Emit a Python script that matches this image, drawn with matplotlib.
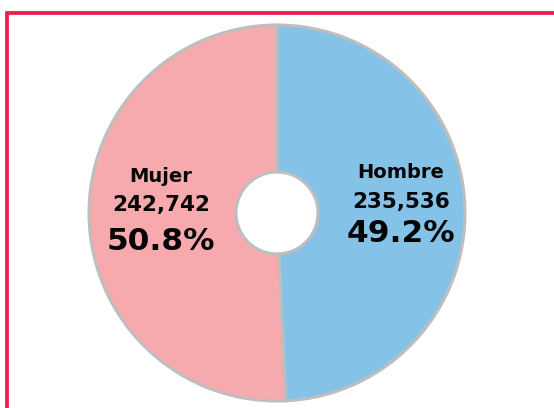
import matplotlib.pyplot as plt
from matplotlib.lines import Line2D

# datos
categorias = ["Mujer", "Hombre"]
poblacion = [242742, 235536]
porcentajes = [50.8, 49.2]
colores = ["#F6AAAE", "#85C2E8"]

W, H = 554, 408
fig = plt.figure(figsize=(W / 100, H / 100), dpi=100)
ax = fig.add_axes([0, 0, 1, 1])

# pie en coordenadas de pixel (y hacia arriba)
cx, cy, radio, hueco = 277, H - 213, 188, 41
ax.pie(poblacion, colors=colores, startangle=90, counterclock=True,
       center=(cx, cy), radius=radio,
       wedgeprops=dict(width=radio - hueco, edgecolor="#BEBEBE", linewidth=2.2))
ax.set_xlim(0, W)
ax.set_ylim(0, H)
ax.set_aspect("equal")
ax.axis("off")

# etiquetas
pos = {"Mujer": (161, [176, 205, 241]), "Hombre": (401, [172, 202, 233])}
for cat, val, pct in zip(categorias, poblacion, porcentajes):
    x, ys = pos[cat]
    ax.text(x, H - ys[0], cat, ha="center", va="center", fontsize=14,
            fontweight="bold", color="#050505")
    ax.text(x, H - ys[1], f"{val:,}", ha="center", va="center", fontsize=15.5,
            fontweight="bold", color="#050505")
    ax.text(x, H - ys[2], f"{pct}%", ha="center", va="center", fontsize=22.5,
            fontweight="bold", color="#050505")

# marco rojo
fig.add_artist(Line2D([6.5 / W, 6.5 / W, 1.02], [-0.02, 1 - 13 / H, 1 - 13 / H],
                      transform=fig.transFigure, color="#EC1C4F", linewidth=2.7,
                      solid_joinstyle="miter"))

fig.savefig("out.png", dpi=100)
